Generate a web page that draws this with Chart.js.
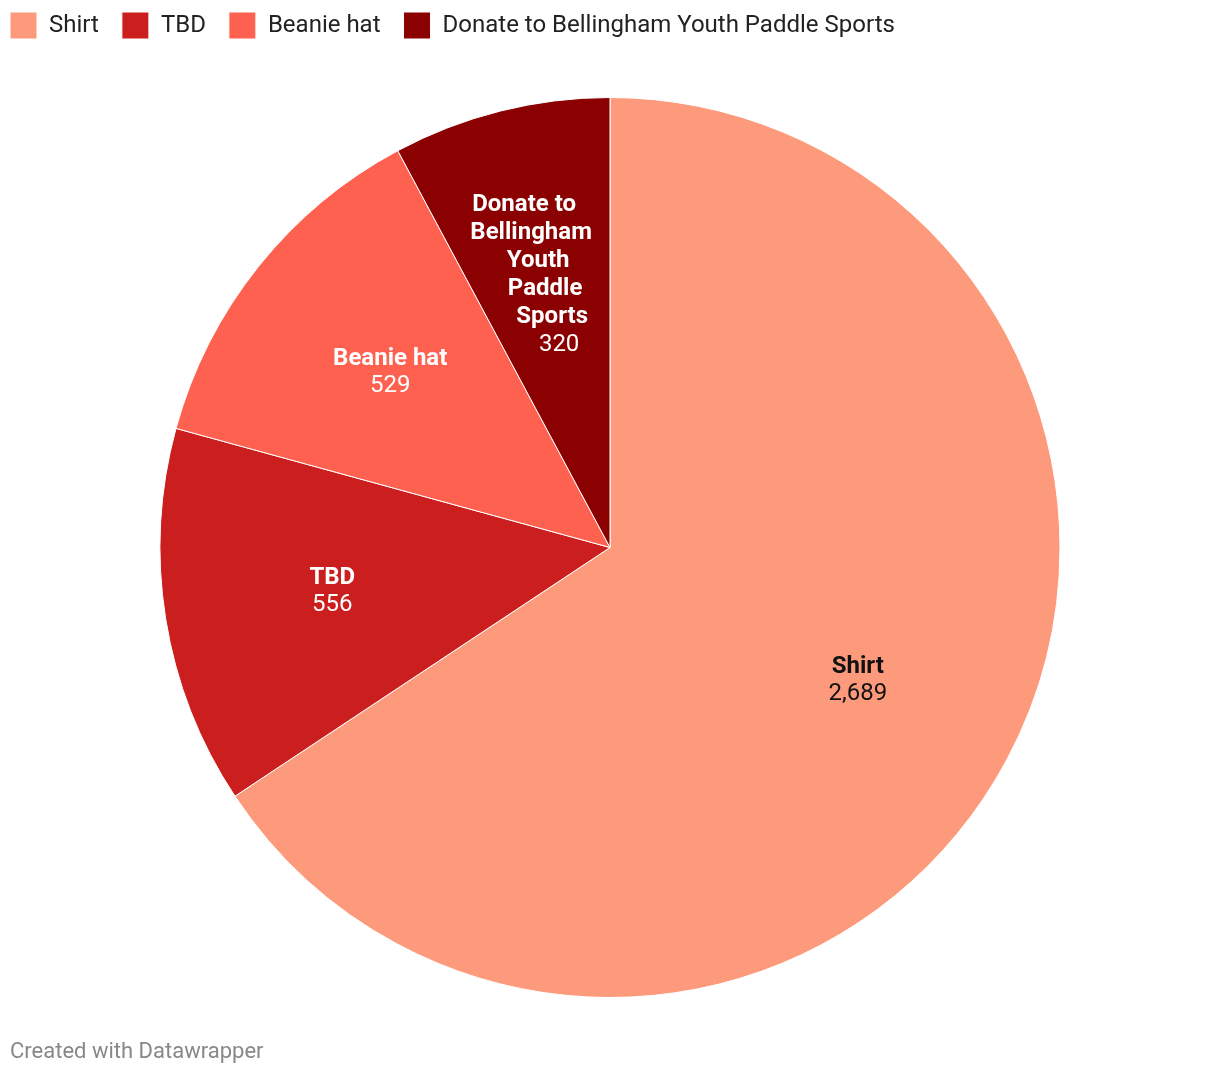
<!DOCTYPE html>
<html>
<head>
<meta charset="utf-8">
<script src="https://cdn.jsdelivr.net/npm/chart.js@4/dist/chart.umd.min.js"></script>
<style>
  html, body { margin: 0; padding: 0; background: #fff; }
  #wrap { position: relative; width: 1220px; height: 1074px; }
</style>
</head>
<body>
<div id="wrap"><canvas id="pieChart" width="1220" height="1074"></canvas></div>
<script>
var categories = ['Shirt', 'TBD', 'Beanie hat', 'Donate to Bellingham Youth Paddle Sports'];
var values = [2689, 556, 529, 320];
var labelLines = [['Shirt'], ['TBD'], ['Beanie hat'], ['Donate to', 'Bellingham', 'Youth', 'Paddle', 'Sports']];
var colors = ['rgb(254,154,124)', 'rgb(203,30,30)', 'rgb(254,97,80)', 'rgb(139,0,0)'];
var labelColors = ['#111', '#fff', '#fff', '#fff'];

// draws the name + value inside each slice
var sliceLabels = {
    id: 'sliceLabels',
    afterDatasetsDraw: function(chart) {
        var ctx = chart.ctx;
        var arcs = chart.getDatasetMeta(0).data;
        ctx.save();
        ctx.textAlign = 'center';
        ctx.textBaseline = 'middle';
        arcs.forEach(function(arc, i) {
            var p = arc.getProps(['x', 'y', 'startAngle', 'endAngle', 'outerRadius'], true);
            var mid = (p.startAngle + p.endAngle) / 2;
            var r = p.outerRadius * 0.625;
            var cx = p.x + Math.cos(mid) * r;
            var cy = p.y + Math.sin(mid) * r;
            var lines = labelLines[i];
            var n = lines.length + 1;
            var lh = n > 2 ? 28 : 27;
            var skew = n > 2 ? 7 : 0;
            ctx.fillStyle = labelColors[i];
            for (var k = 0; k < n; k++) {
                var y = cy + (k - (n - 1) / 2) * lh;
                var x = cx + (k - (n - 1) / 2) * skew;
                if (k < lines.length) {
                    ctx.font = 'bold 24px Roboto';
                    ctx.fillText(lines[k], x, y);
                } else {
                    ctx.font = '24px Roboto';
                    ctx.fillText(values[i].toLocaleString('en-US'), x, y);
                }
            }
        });
        ctx.restore();
    }
};

var footer = {
    id: 'footer',
    afterDraw: function(chart) {
        var ctx = chart.ctx;
        ctx.save();
        ctx.font = '22px Roboto';
        ctx.fillStyle = '#888';
        ctx.textAlign = 'left';
        ctx.textBaseline = 'alphabetic';
        ctx.fillText('Created with Datawrapper', 10, 1058);
        ctx.restore();
    }
};

var ctx = document.getElementById('pieChart').getContext('2d');
var myChart = new Chart(ctx, {
    type: 'pie',
    plugins: [sliceLabels, footer],
    options: {
        responsive: false,
        animation: false,
        radius: 450,
        layout: {
            padding: { top: -11, left: -13, right: -13, bottom: 28 }
        },
        plugins: {
            legend: {
                position: 'top',
                align: 'start',
                labels: {
                    boxWidth: 27,
                    boxHeight: 27,
                    padding: 23,
                    color: '#222',
                    font: { family: 'Roboto', size: 24 }
                }
            },
            tooltip: { enabled: false }
        }
    },
    data: {
        labels: categories,
        datasets: [{
            data: values,
            backgroundColor: colors,
            borderColor: '#fff',
            borderWidth: 1
        }]
    }
});
</script>
</body>
</html>
